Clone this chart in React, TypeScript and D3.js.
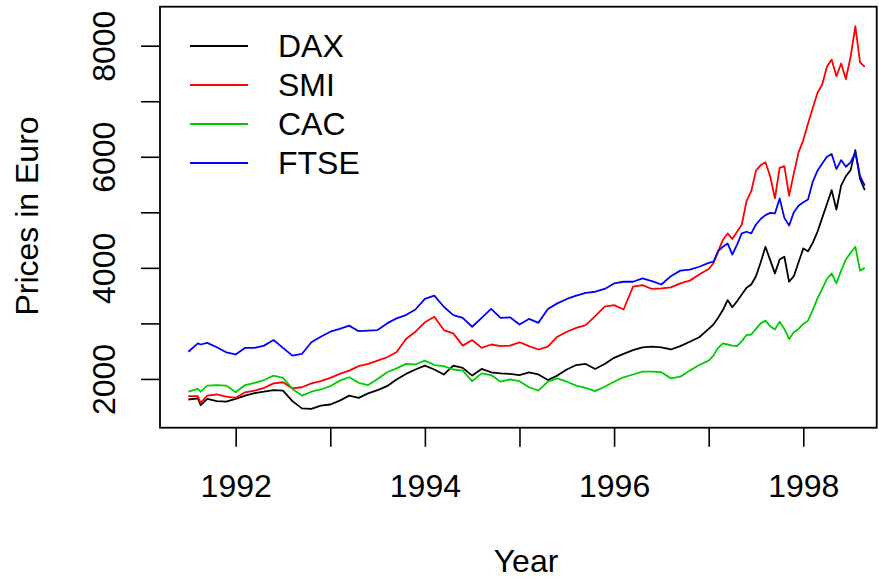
import React, { useRef, useEffect } from 'react';
import * as d3 from 'd3';

// time points (years) shared by all four series
const years = [
  1991.5, 1991.6, 1991.63, 1991.7, 1991.8, 1991.9,
  1992.0, 1992.1, 1992.2, 1992.3, 1992.4, 1992.5, 1992.6, 1992.7, 1992.8, 1992.9,
  1993.0, 1993.1, 1993.2, 1993.3, 1993.4, 1993.5, 1993.6, 1993.7, 1993.8, 1993.9,
  1994.0, 1994.1, 1994.2, 1994.3, 1994.4, 1994.5, 1994.6, 1994.7, 1994.8, 1994.9,
  1995.0, 1995.1, 1995.2, 1995.3, 1995.4, 1995.5, 1995.6, 1995.7, 1995.8, 1995.9,
  1996.0, 1996.1, 1996.2, 1996.3, 1996.4, 1996.5, 1996.6, 1996.7, 1996.8, 1996.9,
  1997.0, 1997.05, 1997.1, 1997.15, 1997.2, 1997.25, 1997.3, 1997.35, 1997.4, 1997.45,
  1997.5, 1997.55, 1997.6, 1997.65, 1997.7, 1997.75, 1997.8, 1997.85, 1997.9, 1997.95,
  1998.0, 1998.05, 1998.1, 1998.15, 1998.2, 1998.25, 1998.3, 1998.35, 1998.4, 1998.45,
  1998.5, 1998.55, 1998.6, 1998.65,
];

const dax = [
  1630, 1650, 1530, 1640, 1600, 1590,
  1640, 1700, 1745, 1770, 1800, 1790, 1600, 1470, 1460, 1520,
  1540, 1610, 1700, 1660, 1740, 1800, 1870, 1990, 2090, 2170,
  2240, 2170, 2080, 2240, 2200, 2060, 2180, 2120, 2100, 2090,
  2070, 2120, 2080, 1980, 2060, 2170, 2250, 2270, 2180, 2270,
  2380, 2450, 2520, 2570, 2580, 2570, 2530, 2590, 2670, 2750,
  2900, 2980, 3100, 3240, 3420, 3290, 3400, 3520, 3640, 3700,
  3850, 4100, 4380, 4140, 3900, 4150, 4200, 3750, 3850, 4100,
  4350, 4300, 4450, 4650, 4900, 5150, 5400, 5050, 5480, 5650,
  5760, 6120, 5600, 5400,
];

const smi = [
  1690, 1690, 1570, 1700, 1720, 1680,
  1660, 1760, 1790, 1840, 1920, 1940, 1830, 1850, 1920, 1960,
  2020, 2090, 2150, 2230, 2270, 2330, 2390, 2480, 2720, 2850,
  3020, 3120, 2880, 2820, 2600, 2700, 2560, 2620, 2590, 2600,
  2660, 2590, 2530, 2580, 2760, 2850, 2920, 2970, 3130, 3300,
  3330, 3250, 3660, 3690, 3620, 3630, 3650, 3720, 3770, 3880,
  3980, 4080, 4300, 4500, 4620, 4520, 4650, 4780, 5200, 5380,
  5750, 5850, 5900, 5650, 5250, 5800, 5830, 5300, 5700, 6080,
  6300, 6600, 6880, 7150, 7300, 7620, 7750, 7450, 7680, 7400,
  7800, 8350, 7700, 7620,
];

const cac = [
  1770, 1820, 1770, 1880, 1890, 1880,
  1760, 1890, 1930, 1980, 2060, 2020, 1820, 1700, 1770, 1810,
  1870, 1970, 2030, 1930, 1890, 2000, 2120, 2190, 2270, 2260,
  2330, 2250, 2230, 2170, 2150, 1960, 2100, 2070, 1950, 1990,
  1960, 1850, 1790, 1950, 2010, 1950, 1880, 1840, 1780, 1860,
  1950, 2030, 2080, 2130, 2130, 2120, 2010, 2040, 2150, 2250,
  2330, 2420, 2560, 2640, 2620, 2600, 2590, 2680, 2790, 2800,
  2900, 3000, 3050, 2950, 2890, 3030, 2900, 2720, 2840, 2900,
  2990, 3050, 3240, 3450, 3620, 3800, 3900, 3720, 3950, 4150,
  4270, 4380, 3950, 4000,
];

const ftse = [
  2490, 2640, 2620, 2650, 2570, 2480,
  2440, 2560, 2560, 2600, 2700, 2560, 2420, 2450, 2660, 2760,
  2850, 2900, 2960, 2860, 2870, 2880, 3000, 3090, 3150, 3250,
  3440, 3500, 3300, 3150, 3100, 2940, 3100, 3260, 3100, 3110,
  2980, 3080, 3010, 3260, 3360, 3440, 3500, 3550, 3570, 3620,
  3720, 3750, 3750, 3810, 3760, 3700, 3850, 3950, 3970, 4020,
  4090, 4110, 4300, 4380, 4440, 4240, 4420, 4620, 4650, 4620,
  4780, 4880, 4950, 4990, 4980, 5250, 4900, 4760, 5000, 5120,
  5180, 5230, 5550, 5750, 5880, 6000, 6050, 5780, 5940, 5820,
  5900, 6080, 5650, 5480,
];

const seriesNames = ['DAX', 'SMI', 'CAC', 'FTSE'];
const seriesValues = [dax, smi, cac, ftse];
const seriesColors = ['#000000', '#FF0000', '#00CD00', '#0000FF'];

const xTicks = [1992, 1993, 1994, 1995, 1996, 1997, 1998];
const yTicks = [2000, 3000, 4000, 5000, 6000, 7000, 8000];

const width = 879;
const height = 582;
const plotLeft = 160;
const plotRight = 876.7;
const plotTop = 6.7;
const plotBottom = 427.7;
const font = '"Liberation Sans", Arial, sans-serif';
const fontSize = 32;

const xScale = d3.scaleLinear().domain([1991.2, 1998.776]).range([plotLeft, plotRight]);
const yScale = d3.scaleLinear().domain([1122, 8702]).range([plotBottom, plotTop]);

const line = d3.line<number>()
  .x((_, i) => xScale(years[i]))
  .y(d => yScale(d));

export default function App() {
  const xAxisRef = useRef<SVGGElement>(null);
  const yAxisRef = useRef<SVGGElement>(null);

  useEffect(() => {
    const xAxis = d3.axisBottom(xScale)
      .tickValues(xTicks)
      .tickSize(19)
      .tickFormat(d => ((d as number) % 2 === 0 ? String(d) : ''));
    const gx = d3.select(xAxisRef.current as SVGGElement).call(xAxis);
    gx.select('.domain').remove();
    gx.attr('font-family', font).attr('font-size', fontSize);
    gx.selectAll('line').attr('stroke', '#000').attr('stroke-width', 1.6);
    gx.selectAll('text').attr('y', 69).attr('dy', 0).attr('fill', '#000');

    const yAxis = d3.axisLeft(yScale)
      .tickValues(yTicks)
      .tickSize(19)
      .tickFormat(d => ((d as number) % 2000 === 0 ? String(d) : ''));
    const gy = d3.select(yAxisRef.current as SVGGElement).call(yAxis);
    gy.select('.domain').remove();
    gy.attr('font-family', font).attr('font-size', fontSize);
    gy.selectAll('line').attr('stroke', '#000').attr('stroke-width', 1.6);
    gy.selectAll('text')
      .attr('x', 0).attr('y', 0).attr('dy', 0)
      .attr('text-anchor', 'middle')
      .attr('transform', 'translate(-45,0) rotate(-90)')
      .attr('fill', '#000');
  }, []);

  return (
    <svg width={width} height={height} style={{ position: 'absolute', left: 0, top: 0, background: '#fff' }}>
      {seriesValues.map((vals, i) => (
        <path key={seriesNames[i]} d={line(vals) || ''} fill="none" stroke={seriesColors[i]} strokeWidth={1.8} strokeLinejoin="round" />
      ))}
      <rect x={plotLeft} y={plotTop} width={plotRight - plotLeft} height={plotBottom - plotTop} fill="none" stroke="#000" strokeWidth={1.8} />
      <g ref={xAxisRef} transform={`translate(0,${plotBottom})`} />
      <g ref={yAxisRef} transform={`translate(${plotLeft},0)`} />

      {/* legend, no box */}
      <g fontFamily={font} fontSize={fontSize}>
        {seriesNames.map((name, i) => (
          <g key={name} transform={`translate(0,${46 + i * 39})`}>
            <line x1={190} x2={248} y1={0} y2={0} stroke={seriesColors[i]} strokeWidth={2} />
            <text x={278} y={11} fill="#000">{name}</text>
          </g>
        ))}
      </g>

      <text x={526} y={572} textAnchor="middle" fontFamily={font} fontSize={fontSize} fill="#000">Year</text>
      <text transform="translate(38,216) rotate(-90)" textAnchor="middle" fontFamily={font} fontSize={fontSize} fill="#000">Prices in Euro</text>
    </svg>
  );
}
